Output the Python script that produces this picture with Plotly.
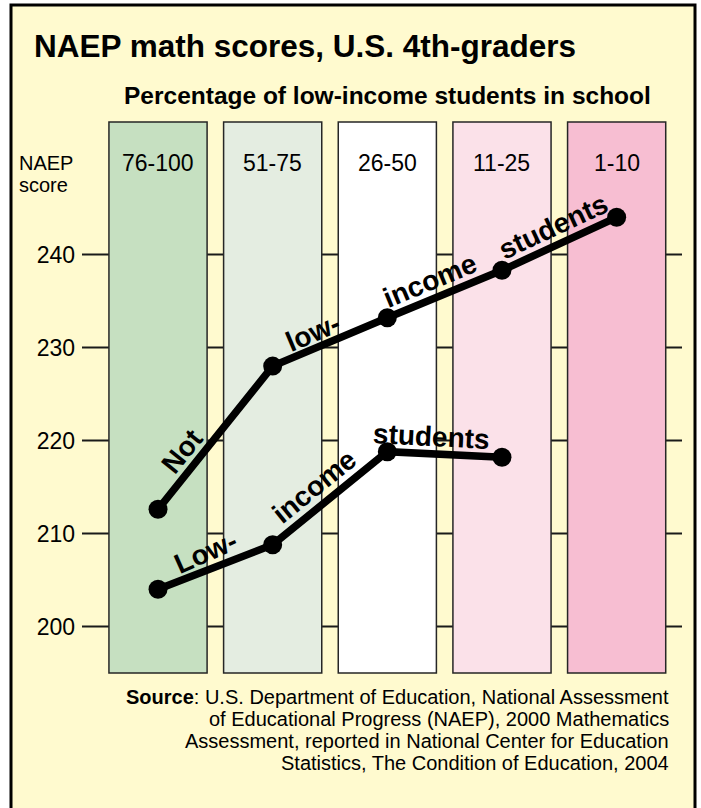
import plotly.graph_objects as go

# ---------------- data ----------------
categories = ["76-100", "51-75", "26-50", "11-25", "1-10"]
not_low_income = [212.6, 228.0, 233.2, 238.3, 244.0]
low_income = [204.0, 208.8, 218.8, 218.2]
y_ticks = [200, 210, 220, 230, 240]
column_colors = ["#C6E0C1", "#E4EDE1", "#FFFFFF", "#FBE1E9", "#F7BED2"]

not_low_words = ["Not", "low-", "income", "students"]
low_words = ["Low-", "income", "students"]

title_text = "NAEP math scores, U.S. 4th-graders"
subtitle_text = "Percentage of low-income students in school"
source_lines = [
    "<b>Source</b>: U.S. Department of Education, National Assessment",
    "of Educational Progress (NAEP), 2000 Mathematics",
    "Assessment, reported in National Center for Education",
    "Statistics, The Condition of Education, 2004",
]

# ---------------- styling / layout ----------------
W, H = 701, 808
ML, MR, MT, MB = 82, 19, 122, 135
pw, ph = W - ML - MR, H - MT - MB
FONT = "Liberation Sans, Arial, Helvetica, sans-serif"
CREAM = "#FFFACF"


def px_x(page_x):
    return (page_x - ML) / pw


def px_y(page_y):
    return (H - MB - page_y) / ph


# word-label placements (x in category units, y in score units, angle)
not_low_pos = [(0.21, 218.8, -51), (1.355, 231.6, -23), (2.375, 237.2, -22.5), (3.45, 243.0, -25)]
low_pos = [(0.413, 208.0, -24), (1.363, 215.1, -39), (2.381, 220.4, 3)]

xs = list(range(len(categories)))

fig = go.Figure()

fig.add_trace(go.Scatter(
    x=xs, y=not_low_income, mode="lines+markers",
    line=dict(color="black", width=7.5),
    marker=dict(color="black", size=19),
    hoverinfo="skip", showlegend=False,
))
fig.add_trace(go.Scatter(
    x=xs[:len(low_income)], y=low_income, mode="lines+markers",
    line=dict(color="black", width=7.5),
    marker=dict(color="black", size=19),
    hoverinfo="skip", showlegend=False,
))

shapes = []
# outer frame
shapes.append(dict(
    type="rect", xref="paper", yref="paper", layer="below",
    x0=px_x(11), x1=px_x(695), y0=px_y(820), y1=px_y(5),
    line=dict(color="black", width=3), fillcolor=CREAM,
))
# horizontal score lines (behind the columns)
for v in y_ticks:
    shapes.append(dict(
        type="line", xref="x domain", yref="y", layer="below",
        x0=0, x1=1, y0=v, y1=v,
        line=dict(color="#1a1a1a", width=2),
    ))
half = 0.428
for i, c in enumerate(column_colors):
    shapes.append(dict(
        type="rect", xref="x", yref="y domain", layer="below",
        x0=i - half, x1=i + half, y0=0, y1=1,
        line=dict(color="#262626", width=1.5), fillcolor=c,
    ))

annotations = []
for i, cat in enumerate(categories):
    annotations.append(dict(
        x=i, y=px_y(163), xref="x", yref="paper",
        text=cat, showarrow=False, xanchor="center", yanchor="middle",
        font=dict(family=FONT, size=23, color="black"),
    ))
annotations.append(dict(
    x=px_x(17), y=px_y(163), xref="paper", yref="paper",
    text="NAEP", showarrow=False, xanchor="left", yanchor="middle",
    font=dict(family=FONT, size=20, color="black"),
))
annotations.append(dict(
    x=px_x(17), y=px_y(185), xref="paper", yref="paper",
    text="score", showarrow=False, xanchor="left", yanchor="middle",
    font=dict(family=FONT, size=20, color="black"),
))
annotations.append(dict(
    x=px_x(387), y=px_y(96), xref="paper", yref="paper",
    text="<b>" + subtitle_text + "</b>", showarrow=False,
    xanchor="center", yanchor="middle",
    font=dict(family=FONT, size=24.5, color="black"),
))
for word, (px, py, ang) in zip(not_low_words, not_low_pos):
    annotations.append(dict(
        x=px, y=py, xref="x", yref="y", text="<b>" + word + "</b>",
        showarrow=False, textangle=ang, xanchor="center", yanchor="middle",
        font=dict(family=FONT, size=28, color="black"),
    ))
for word, (px, py, ang) in zip(low_words, low_pos):
    annotations.append(dict(
        x=px, y=py, xref="x", yref="y", text="<b>" + word + "</b>",
        showarrow=False, textangle=ang, xanchor="center", yanchor="middle",
        font=dict(family=FONT, size=28, color="black"),
    ))
for k, line in enumerate(source_lines):
    annotations.append(dict(
        x=px_x(671), y=px_y(697 + 22 * k), xref="paper", yref="paper",
        text=line, showarrow=False, xanchor="right", yanchor="middle", align="right",
        font=dict(family=FONT, size=20, color="black"),
    ))

fig.update_layout(
    width=W, height=H, autosize=False,
    margin=dict(l=ML, r=MR, t=MT, b=MB, pad=0),
    paper_bgcolor="white", plot_bgcolor="rgba(0,0,0,0)",
    title=dict(
        text="<b>" + title_text + "</b>", x=34 / W, xanchor="left", xref="container",
        y=1 - 46 / H, yanchor="middle", yref="container",
        font=dict(family=FONT, size=31.5, color="black"),
    ),
    xaxis=dict(range=[-0.663, 4.570], visible=False, fixedrange=True),
    yaxis=dict(
        range=[195.0, 254.25], tickvals=y_ticks, ticktext=[str(v) for v in y_ticks],
        showgrid=False, zeroline=False,
        showline=False, ticks="", ticklabelstandoff=6,
        tickfont=dict(family=FONT, size=23, color="black"), fixedrange=True,
    ),
    shapes=shapes, annotations=annotations, showlegend=False,
)

fig.write_html(
    "out.html",
    config={"displayModeBar": False},
    post_script="document.body.style.margin='0';document.body.style.overflow='hidden';",
)
